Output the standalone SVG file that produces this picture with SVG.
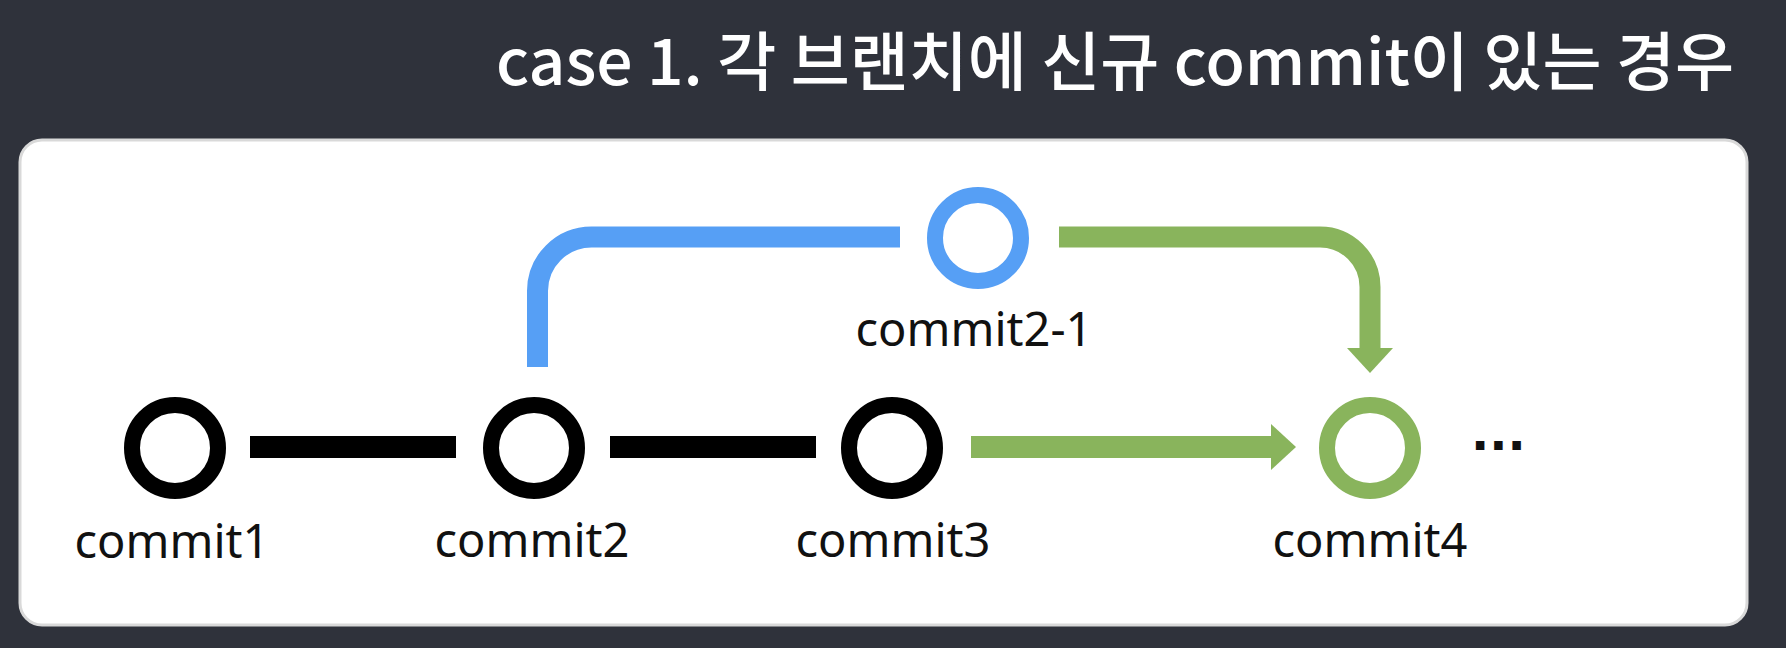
<svg xmlns="http://www.w3.org/2000/svg" width="1786" height="648" viewBox="0 0 1786 648">
<style>
.ring{fill:none;stroke-width:16}
.lbl{font-family:"Noto Sans","Liberation Sans",sans-serif;font-size:47px;fill:#111;text-anchor:middle}
.title{font-family:"Noto Sans CJK KR","Noto Sans",sans-serif;font-size:64px;font-weight:500;fill:#fff}
</style>
<defs>
<marker id="gh" markerUnits="userSpaceOnUse" markerWidth="26" markerHeight="46" refX="0" refY="23" orient="auto" viewBox="0 0 26 46">
<path d="M0,0 L25,23 L0,46 z" fill="#89b45c"/>
</marker>
</defs>
<rect width="1786" height="648" fill="#2f323b"/>
<text class="title" x="1734" y="85" text-anchor="end" textLength="1238" lengthAdjust="spacingAndGlyphs">case 1. 각 브랜치에 신규 commit이 있는 경우</text>
<rect x="20" y="140" width="1727" height="485" rx="22" fill="#fff" stroke="#d9d9d9" stroke-width="3"/>
<g id="connectors">
<line x1="250" y1="447" x2="456" y2="447" stroke="#000" stroke-width="22"/>
<line x1="610" y1="447" x2="816" y2="447" stroke="#000" stroke-width="22"/>
<path d="M537.5,367 V291 A54,54 0 0 1 591.5,237 H900" fill="none" stroke="#569ff5" stroke-width="21"/>
<line x1="971" y1="447" x2="1271" y2="447" stroke="#89b45c" stroke-width="22" marker-end="url(#gh)"/>
<path d="M1059,237 H1320 A50,50 0 0 1 1370,287 V348" fill="none" stroke="#89b45c" stroke-width="21" marker-end="url(#gh)"/>
</g>
<g id="commit1"><circle class="ring" cx="175" cy="448" r="43" stroke="#000"/><text class="lbl" x="172" y="558">commit1</text></g>
<g id="commit2"><circle class="ring" cx="534" cy="448" r="43" stroke="#000"/><text class="lbl" x="532" y="557">commit2</text></g>
<g id="commit3"><circle class="ring" cx="892" cy="448" r="43" stroke="#000"/><text class="lbl" x="893" y="557">commit3</text></g>
<g id="commit2-1"><circle class="ring" cx="978" cy="238" r="43" stroke="#569ff5"/><text class="lbl" x="974" y="346">commit2-1</text></g>
<g id="commit4"><circle class="ring" cx="1370" cy="448" r="43" stroke="#89b45c"/><text class="lbl" x="1370" y="557">commit4</text></g>
<g id="ellipsis"><text x="1471" y="450" font-family="DejaVu Sans,sans-serif" font-weight="bold" font-size="48" fill="#111">...</text></g>
</svg>
